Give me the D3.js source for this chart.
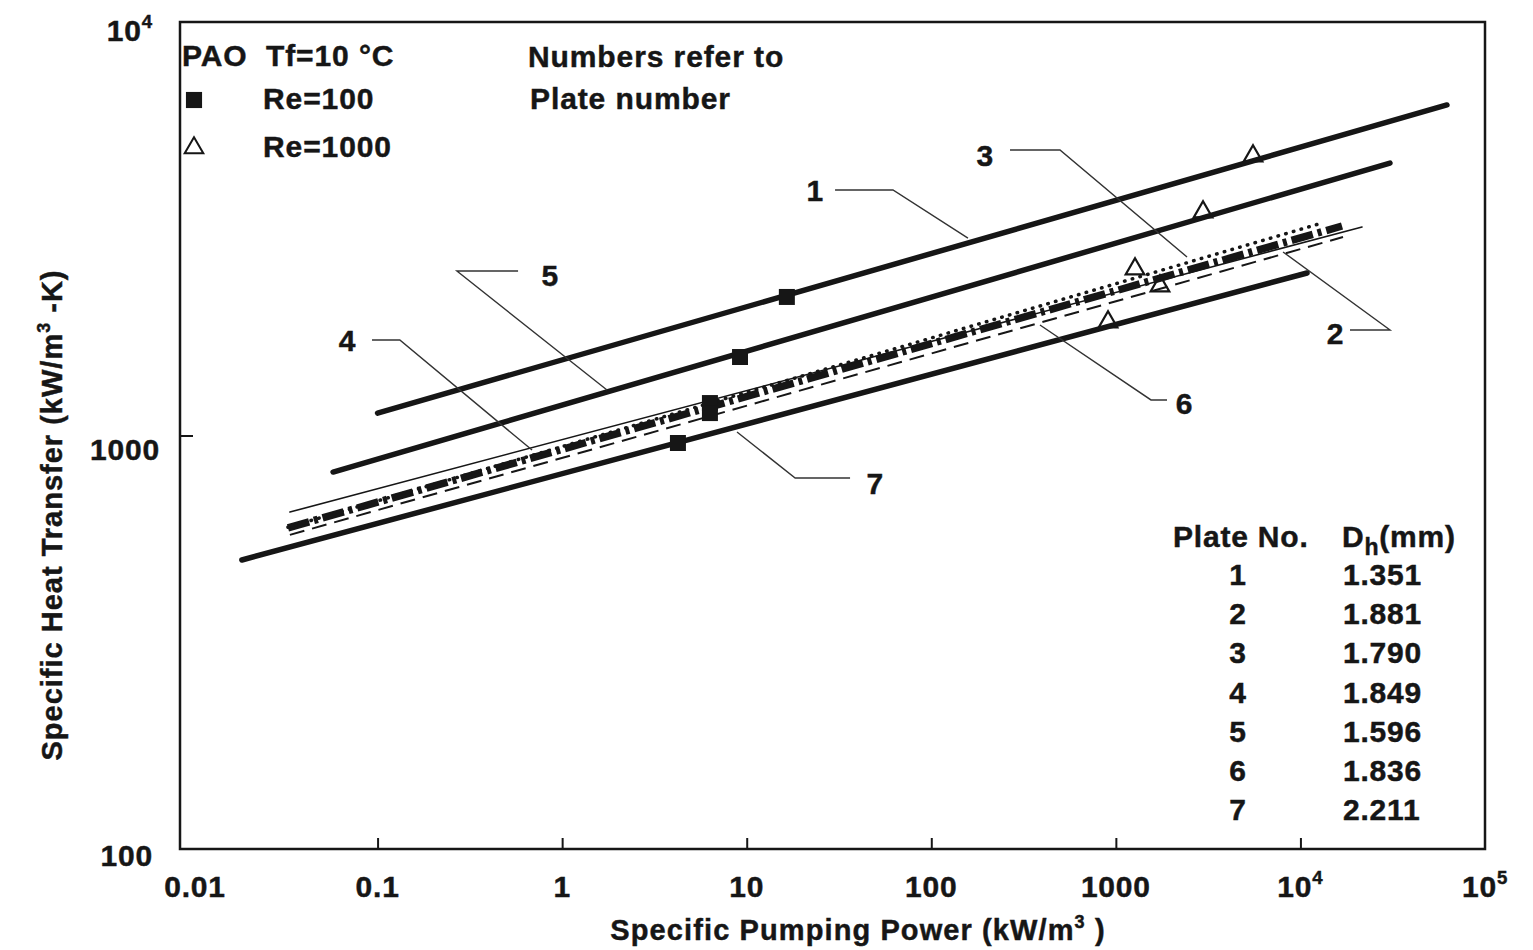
<!DOCTYPE html>
<html>
<head>
<meta charset="utf-8">
<script src="https://cdn.jsdelivr.net/npm/d3@7"></script>
<style>
  html, body { margin: 0; padding: 0; background: #fff; }
  svg { display: block; font-family: "Liberation Sans", Arial, Helvetica, sans-serif; font-weight: bold; }
  svg text { paint-order: stroke; stroke: #161616; stroke-width: 0.45px; }
</style>
</head>
<body>
<div id="chart"></div>
<script>
// axis ticks
const xTicks = [0.01, 0.1, 1, 10, 100, 1000, 1e4, 1e5];
const xTickLabels = ["0.01", "0.1", "1", "10", "100", "1000", "10^4", "10^5"];
const yTicks = [100, 1000, 1e4];
const yTickLabels = ["100", "1000", "10^4"];

// plate lines, [pumping power, heat transfer] at both ends
const plate1 = [[0.1, 1133], [62200, 6300]];
const plate5 = [[0.0574, 816], [30550, 4560]];
const plate4 = [[0.0335, 653], [21560, 3194]];
const plate3 = [[0.0327, 598], [16800, 3211]];
const plate2 = [[0.0327, 600], [13250, 3270]];
const plate6 = [[0.0335, 575], [17010, 3020]];
const plate7 = [[0.0184, 500], [10860, 2472]];

// symbols
const re100 = [[16.5, 2163], [9.2, 1548], [6.32, 1198], [6.32, 1133], [4.24, 959]];
const re1000 = [[5535, 4716], [2967, 3452], [1270, 2513], [1734, 2286], [907, 1871]];

// line labels with leaders
const labelText = ["1", "3", "5", "4", "7", "6", "2"];
const labelAt = [[23.4, 3925], [195, 4768], [0.859, 2444], [0.0683, 1702], [49.5, 768], [2340, 1198], [15390, 1770]];
const leaders = [
  [[30.1, 3925], [62.0, 3925], [158, 3002]],
  [[267, 4901], [498, 4901], [2430, 2702]],
  [[0.577, 2499], [0.269, 2499], [1.75, 1288]],
  [[0.0933, 1702], [0.132, 1702], [0.687, 922]],
  [[36.3, 789], [18.3, 789], [8.86, 1020]],
  [[1893, 1219], [1550, 1219], [388, 1850]],
  [[18560, 1799], [30580, 1799], [8050, 2779]]
];

// table
const plateNo = ["1", "2", "3", "4", "5", "6", "7"];
const dh = ["1.351", "1.881", "1.790", "1.849", "1.596", "1.836", "2.211"];

const W = 1533, H = 950;
const ink = "#161616";

const svg = d3.select("#chart").append("svg")
  .attr("width", W)
  .attr("height", H)
  .attr("viewBox", [0, 0, W, H]);

svg.append("rect").attr("width", W).attr("height", H).attr("fill", "#fff");

// scales
const x = d3.scaleLog().domain([0.01, 1e5]).range([193, 1485]);
const y = d3.scaleLog().domain([100, 1e4]).range([849, 22]);

// frame
svg.append("rect")
  .attr("x", 180)
  .attr("y", y(1e4))
  .attr("width", x(1e5) - 180)
  .attr("height", y(100) - y(1e4))
  .attr("fill", "none")
  .attr("stroke", ink)
  .attr("stroke-width", 2.5);

// inward ticks
svg.append("g")
  .attr("transform", `translate(0,${y(100)})`)
  .call(d3.axisBottom(x).tickValues(xTicks.slice(1, -1)).tickSizeInner(-11).tickSizeOuter(0).tickFormat(""))
  .call(g => g.select(".domain").remove())
  .call(g => g.selectAll("line").attr("stroke", ink).attr("stroke-width", 2));

svg.append("g")
  .attr("transform", `translate(180,0)`)
  .call(d3.axisLeft(y).tickValues([1000]).tickSizeInner(-13).tickSizeOuter(0).tickFormat(""))
  .call(g => g.select(".domain").remove())
  .call(g => g.selectAll("line").attr("stroke", ink).attr("stroke-width", 2));

// label with optional ^superscript
function powText(sel, label, size) {
  const parts = label.split("^");
  sel.text(parts[0]);
  if (parts[1]) {
    sel.append("tspan")
      .attr("dy", -size * 0.45)
      .attr("font-size", size * 0.62)
      .text(parts[1]);
  }
}

svg.append("g")
  .selectAll("text")
  .data(xTicks)
  .join("text")
  .attr("x", d => x(d) + (d === 0.01 ? 2 : 0))
  .attr("y", 897)
  .attr("text-anchor", "middle")
  .attr("font-size", 30)
  .attr("letter-spacing", 0.8)
  .attr("fill", ink)
  .each(function (d, i) { powText(d3.select(this), xTickLabels[i], 30); });

const yLabelBase = [866, 460, 41];
svg.append("g")
  .selectAll("text")
  .data(yTicks)
  .join("text")
  .attr("x", (d, i) => (i === 1 ? 160 : 153))
  .attr("y", (d, i) => yLabelBase[i])
  .attr("text-anchor", "end")
  .attr("font-size", 30)
  .attr("letter-spacing", 0.8)
  .attr("fill", ink)
  .each(function (d, i) { powText(d3.select(this), yTickLabels[i], 30); });

// axis titles
const xt = svg.append("text")
  .attr("x", 858).attr("y", 940)
  .attr("text-anchor", "middle")
  .attr("font-size", 29)
  .attr("letter-spacing", 1.1)
  .attr("fill", ink)
  .text("Specific Pumping Power (kW/m");
xt.append("tspan").attr("dy", -12).attr("font-size", 18).text("3");
xt.append("tspan").attr("dy", 12).text(" )");

const yt = svg.append("text")
  .attr("transform", "translate(62,515) rotate(-90)")
  .attr("text-anchor", "middle")
  .attr("font-size", 29)
  .attr("letter-spacing", 1)
  .attr("fill", ink)
  .text("Specific Heat Transfer (kW/m");
yt.append("tspan").attr("dy", -12).attr("font-size", 18).text("3");
yt.append("tspan").attr("dy", 12).text(" -K)");

// lines
const line = d3.line().x(d => x(d[0])).y(d => y(d[1]));
const series = [
  { data: plate7, w: 5.5, dash: null, cap: "round" },
  { data: plate6, w: 2, dash: "15,8", cap: "butt" },
  { data: plate3, w: 7.5, dash: "22,5,4,5", cap: "butt" },
  { data: plate2, w: 3.5, dash: "0.5,7.5", cap: "round" },
  { data: plate4, w: 1.6, dash: null, cap: "round" },
  { data: plate5, w: 5.5, dash: null, cap: "round" },
  { data: plate1, w: 5.5, dash: null, cap: "round" }
];

svg.append("g")
  .selectAll("path")
  .data(series)
  .join("path")
  .attr("d", d => line(d.data))
  .attr("fill", "none")
  .attr("stroke", ink)
  .attr("stroke-width", d => d.w)
  .attr("stroke-linecap", d => d.cap)
  .attr("stroke-dasharray", d => d.dash);

// markers
const square = d3.symbol(d3.symbolSquare, 256);
const triangle = d3.symbol(d3.symbolTriangle, 150);

svg.append("g")
  .selectAll("path")
  .data(re100)
  .join("path")
  .attr("transform", d => `translate(${x(d[0])},${y(d[1])})`)
  .attr("d", square)
  .attr("fill", ink);

svg.append("g")
  .selectAll("path")
  .data(re1000)
  .join("path")
  .attr("transform", d => `translate(${x(d[0])},${y(d[1]) - 1})`)
  .attr("d", triangle)
  .attr("fill", "none")
  .attr("stroke", ink)
  .attr("stroke-width", 2.2);

// leaders and labels
svg.append("g")
  .selectAll("path")
  .data(leaders)
  .join("path")
  .attr("d", d => d3.line().x(p => x(p[0])).y(p => y(p[1]))(d))
  .attr("fill", "none")
  .attr("stroke", "#333")
  .attr("stroke-width", 1.4);

svg.append("g")
  .selectAll("text")
  .data(labelText)
  .join("text")
  .attr("x", (d, i) => x(labelAt[i][0]))
  .attr("y", (d, i) => y(labelAt[i][1]))
  .attr("dy", "0.36em")
  .attr("text-anchor", "middle")
  .attr("font-size", 30)
  .attr("fill", ink)
  .text(d => d);

// legend
const legend = svg.append("g")
  .attr("font-size", 30)
  .attr("letter-spacing", 0.9)
  .attr("fill", ink);

legend.append("text").attr("x", 182).attr("y", 66).attr("xml:space", "preserve").text("PAO  Tf=10 °C");
legend.append("path")
  .attr("transform", "translate(194,100)")
  .attr("d", d3.symbol(d3.symbolSquare, 260))
  .attr("fill", ink);
legend.append("text").attr("x", 263).attr("y", 109).text("Re=100");
legend.append("path")
  .attr("transform", "translate(194,148)")
  .attr("d", d3.symbol(d3.symbolTriangle, 150))
  .attr("fill", "none")
  .attr("stroke", ink)
  .attr("stroke-width", 2);
legend.append("text").attr("x", 263).attr("y", 157).text("Re=1000");

legend.append("text").attr("x", 528).attr("y", 67).text("Numbers refer to");
legend.append("text").attr("x", 530).attr("y", 109).text("Plate number");

// plate table
const table = svg.append("g")
  .attr("font-size", 30)
  .attr("letter-spacing", 0.8)
  .attr("fill", ink);

table.append("text").attr("x", 1173).attr("y", 547).text("Plate No.");
const dhHead = table.append("text").attr("x", 1342).attr("y", 547).text("D");
dhHead.append("tspan").attr("dy", 8).attr("font-size", 23).text("h");
dhHead.append("tspan").attr("dy", -8).text("(mm)");

table.selectAll(".no")
  .data(plateNo)
  .join("text")
  .attr("class", "no")
  .attr("x", 1238)
  .attr("y", (d, i) => 585 + i * 39.2)
  .attr("text-anchor", "middle")
  .text(d => d);

table.selectAll(".dh")
  .data(dh)
  .join("text")
  .attr("class", "dh")
  .attr("x", 1343)
  .attr("y", (d, i) => 585 + i * 39.2)
  .text(d => d);
</script>
</body>
</html>
